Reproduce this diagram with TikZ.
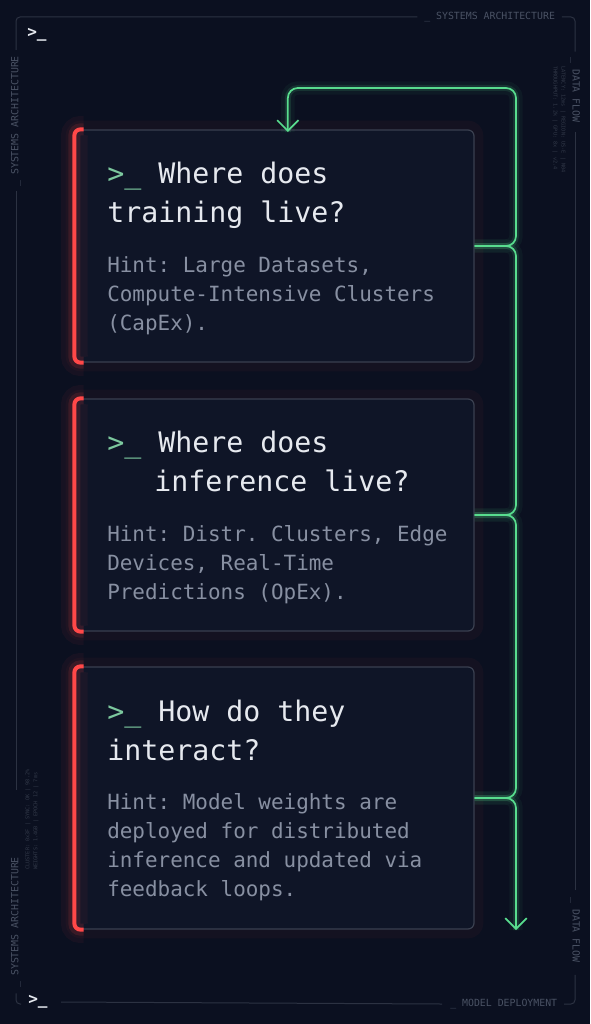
\documentclass[tikz,border=0pt]{standalone}
\usepackage{fontspec}
\setmonofont{DejaVu Sans Mono}
\usetikzlibrary{arrows.meta}
\definecolor{pagebg}{HTML}{0B1020}
\definecolor{cardbg}{HTML}{0F1527}
\definecolor{cardline}{HTML}{3A4050}
\definecolor{framegray}{HTML}{2C3242}
\definecolor{labelgray}{HTML}{4A5264}
\definecolor{tinygray}{HTML}{323949}
\definecolor{edgered}{HTML}{FF4848}
\definecolor{flowgreen}{HTML}{58DC8E}
\definecolor{promptgreen}{HTML}{7CC89E}
\definecolor{titlewhite}{HTML}{E6E9EF}
\definecolor{hintgray}{HTML}{8890A2}
\tikzset{
	card/.style={draw=cardline, fill=cardbg, line width=0.9pt, rounded corners=4.5pt, minimum width=299.25pt, inner sep=0pt,
		preaction={draw=edgered, line width=14pt, opacity=0.04}},
	redge/.style={draw=edgered, line width=3pt, rounded corners=4.5pt,
		preaction={draw=edgered, line width=20pt, opacity=0.05}, preaction={draw=edgered, line width=9pt, opacity=0.12}},
	flow/.style={draw=flowgreen, line width=1.3pt, rounded corners=7.5pt,
		preaction={draw=flowgreen, line width=10pt, opacity=0.05, -}, preaction={draw=flowgreen, line width=4.5pt, opacity=0.13, -}},
	tip/.style={-{Straight Barb[length=8pt, width=16pt, line width=1.3pt]}},
	frameline/.style={draw=framegray, line width=0.75pt, rounded corners=3pt},
	title/.style={anchor=base west, inner sep=0pt, text=titlewhite, font=\ttfamily\fontsize{21.2pt}{26pt}\selectfont},
	hint/.style={anchor=base west, inner sep=0pt, text=hintgray, font=\ttfamily\fontsize{15.7pt}{19pt}\selectfont},
	lbl/.style={inner sep=0pt, text=labelgray, font=\ttfamily\fontsize{7.4pt}{9pt}\selectfont},
	tiny/.style={inner sep=0pt, text=tinygray, font=\ttfamily\fontsize{3.9pt}{5pt}\selectfont},
	corner/.style={inner sep=0pt, text=titlewhite, font=\ttfamily\bfseries\fontsize{12pt}{14pt}\selectfont}
}
\newcommand{\prompt}{\textcolor{promptgreen}{>\_}}
\begin{document}
\begin{tikzpicture}[x=0.75pt, y=-0.75pt]
	\fill[pagebg] (0,0) rectangle (590,1024);
	\useasboundingbox (0,0) rectangle (590,1024);

	\node[corner, anchor=west] (tl) at (27,35) {>\_};
	\node[corner, anchor=west] (bl) at (28,1002) {>\_};
	\node[lbl, anchor=west] (toplbl) at (424,17) {\_ SYSTEMS ARCHITECTURE};
	\node[lbl, anchor=west] (botlbl) at (450,1004) {\_ MODEL DEPLOYMENT};
	\node[lbl, anchor=west, rotate=-90] (rtlbl) at (575,57) {\_ DATA FLOW};
	\node[lbl, anchor=west, rotate=-90] (rblbl) at (575,897) {\_ DATA FLOW};
	\node[lbl, anchor=west, rotate=90] (ltlbl) at (16,187) {\_ SYSTEMS ARCHITECTURE};
	\node[lbl, anchor=west, rotate=90] (lblbl) at (16,988) {\_ SYSTEMS ARCHITECTURE};
	\node[tiny, anchor=west, rotate=-90] (rtiny1) at (563,66) {LATENCY: 12ms | REGION: US-E | N04};
	\node[tiny, anchor=west, rotate=-90] (rtiny2) at (555,66) {THROUGHPUT: 1.2k | GPU: 8x | v2.4};
	\node[tiny, anchor=west, rotate=90] (ltiny1) at (28,870) {CLUSTER: 0x3F | SYNC: OK | 98.2\%};
	\node[tiny, anchor=west, rotate=90] (ltiny2) at (36,870) {WEIGHTS: 1.4GB | EPOCH 12 | 7ms};

	\draw[frameline] (16,50) -- (16,17) -- ([xshift=-5pt]toplbl.west);
	\draw[frameline] ([xshift=5pt]toplbl.east) -- (575,17) -- ([yshift=4pt]rtlbl.west);
	\draw[frameline] ([yshift=-7pt]rtlbl.east) -- ([yshift=5pt]rblbl.west);
	\draw[frameline] ([yshift=-9pt]rblbl.east) -- (575,1004) -- ([xshift=5pt]botlbl.east);
	\draw[frameline] ([xshift=-6pt]botlbl.west) -- ([xshift=10pt]bl.east);
	\draw[frameline] (21,1004) -- (16,1004) -- ([yshift=-4pt]lblbl.west);
	\draw[frameline] ([yshift=-3pt]ltlbl.west) -- (16,790);

	\node[card, minimum height=174pt] (train) at (274.5,246) {};
	\node[card, minimum height=174pt] (infer) at (274.5,515) {};
	\node[card, minimum height=196.5pt] (interact) at (274.5,798) {};

	\draw[redge] ([xshift=7pt]train.north west) -- (train.north west) -- (train.south west) -- ([xshift=7pt]train.south west);
	\draw[redge] ([xshift=7pt]infer.north west) -- (infer.north west) -- (infer.south west) -- ([xshift=7pt]infer.south west);
	\draw[redge] ([xshift=7pt]interact.north west) -- (interact.north west) -- (interact.south west) -- ([xshift=7pt]interact.south west);

	\node[title] (q1a) at (107,183) {\prompt\ Where does};
	\node[title] (q1b) at (107,222) {training live?};
	\node[hint] (h1a) at (107,272) {Hint: Large Datasets,};
	\node[hint] (h1b) at (107,301) {Compute-Intensive Clusters};
	\node[hint] (h1c) at (107,330) {(CapEx).};

	\node[title] (q2a) at (107,452) {\prompt\ Where does};
	\node[title] (q2b) at (154,491) {inference live?};
	\node[hint] (h2a) at (107,541) {Hint: Distr. Clusters, Edge};
	\node[hint] (h2b) at (107,570) {Devices, Real-Time};
	\node[hint] (h2c) at (107,599) {Predictions (OpEx).};

	\node[title] (q3a) at (107,721) {\prompt\ How do they};
	\node[title] (q3b) at (107,760) {interact?};
	\node[hint] (h3a) at (107,809) {Hint: Model weights are};
	\node[hint] (h3b) at (107,838) {deployed for distributed};
	\node[hint] (h3c) at (107,867) {inference and updated via};
	\node[hint] (h3d) at (107,896) {feedback loops.};

	\coordinate (top) at (516,88);
	\coordinate (end) at (516,930);
	\draw[flow, tip] (train.east) -- (train.east -| top) -- (top) -- ([xshift=10pt]top -| train.north) -- ([xshift=10pt, yshift=-2pt]train.north);
	\draw[flow] (train.east) -- (train.east -| top) -- (infer.east -| top) -- (infer.east);
	\draw[flow] (infer.east) -- (infer.east -| top) -- (interact.east -| top) -- (interact.east);
	\draw[flow, tip] (interact.east) -- (interact.east -| top) -- (end);
\end{tikzpicture}
\end{document}
